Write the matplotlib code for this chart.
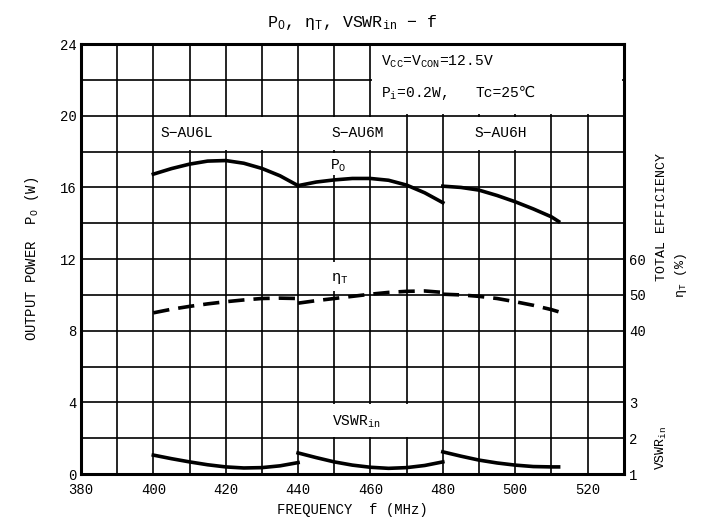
import matplotlib
matplotlib.use("Agg")
import matplotlib.pyplot as plt
from matplotlib.patches import Rectangle

plt.rcParams["font.family"] = ["Liberation Mono", "DejaVu Sans"]
plt.rcParams["mathtext.fontset"] = "custom"
plt.rcParams["mathtext.rm"] = "Liberation Mono"
plt.rcParams["mathtext.it"] = "Liberation Mono"
plt.rcParams["mathtext.default"] = "rm"

# frequency (MHz) for the three bands
freq_L = [400, 405, 410, 415, 420, 425, 430, 435, 440]
freq_M = [440, 445, 450, 455, 460, 465, 470, 475, 480]
freq_H = [480, 485, 490, 495, 500, 505, 510, 512]

# output power Po (W)
po_L = [16.74, 17.05, 17.3, 17.47, 17.5, 17.35, 17.06, 16.65, 16.1]
po_M = [16.1, 16.3, 16.42, 16.5, 16.5, 16.4, 16.13, 15.7, 15.15]
po_H = [16.07, 16.0, 15.85, 15.55, 15.2, 14.8, 14.36, 14.1]

# total efficiency (%)
eff_L = [45.0, 46.0, 46.8, 47.5, 48.1, 48.6, 49.0, 49.1, 49.0]
eff_M = [47.7, 48.4, 49.0, 49.6, 50.2, 50.7, 51.0, 51.1, 50.7]
eff_H = [50.2, 50.0, 49.6, 49.0, 48.1, 47.1, 45.9, 45.3]

# input VSWR
vswr_L = [1.53, 1.43, 1.34, 1.26, 1.2, 1.17, 1.18, 1.23, 1.32]
vswr_M = [1.59, 1.46, 1.34, 1.25, 1.19, 1.16, 1.18, 1.24, 1.34]
vswr_H = [1.62, 1.5, 1.39, 1.31, 1.25, 1.21, 1.2, 1.2]

band_names = ["S\u2212AU6L", "S\u2212AU6M", "S\u2212AU6H"]


def eff_to_w(e):
    return e / 5.0


def w_to_eff(w):
    return w * 5.0


def vswr_to_w(v):
    return (v - 1.0) * 2.0


def w_to_vswr(w):
    return w / 2.0 + 1.0


fig = plt.figure(figsize=(7.04, 5.25), dpi=100)
ax = fig.add_axes([0.115, 0.097, 0.771, 0.819])

ax.set_xlim(380, 530)
ax.set_ylim(0, 24)
ax.set_xticks(range(380, 531, 10), minor=True)
ax.set_yticks(range(0, 25, 2), minor=True)
ax.set_xticks(range(380, 521, 20))
ax.set_yticks(range(0, 25, 4))
ax.grid(True, which="both", color="black", linewidth=1.2)
ax.set_axisbelow(True)
ax.tick_params(which="both", length=0, labelsize=10)
ax.tick_params(axis="x", pad=6.5)
ax.tick_params(axis="y", pad=3)
for sp in ax.spines.values():
    sp.set_linewidth(2.2)
    sp.set_zorder(4)

# white label boxes over the grid (kept just inside the grid lines)
boxes = [(400, 18, 40, 2), (440, 18, 30, 2), (480, 18, 30, 2),
         (460, 20, 70, 4), (440, 2, 40, 2), (444.5, 16.6, 13, 1.4),
         (445, 10.15, 13, 1.75)]
for x0, y0, w, h in boxes:
    ax.add_patch(Rectangle((x0 + 0.35, y0 + 0.08), w - 0.7, h - 0.16,
                           facecolor="white", edgecolor="none", zorder=1))

for f, p in [(freq_L, po_L), (freq_M, po_M), (freq_H, po_H)]:
    ax.plot(f, p, color="black", linewidth=2.6, zorder=3)
for f, e in [(freq_L, eff_L), (freq_M, eff_M), (freq_H, eff_H)]:
    ax.plot(f, [eff_to_w(v) for v in e], color="black", linewidth=2.6,
            linestyle=(0, (4.5, 2.5)), zorder=3)
for f, v in [(freq_L, vswr_L), (freq_M, vswr_M), (freq_H, vswr_H)]:
    ax.plot(f, [vswr_to_w(s) for s in v], color="black", linewidth=2.6, zorder=3)

ax.text(402, 19.05, band_names[0], ha="left", va="center", fontsize=10.5)
ax.text(456.5, 19.05, band_names[1], ha="center", va="center", fontsize=10.5)
ax.text(496, 19.05, band_names[2], ha="center", va="center", fontsize=10.5)
ax.text(463, 23.0, r"V$_\mathrm{CC}$=V$_\mathrm{CON}$=12.5V", ha="left",
        va="center", fontsize=10.5)
ax.text(463, 21.25, r"P$_\mathrm{i}$=0.2W,", ha="left", va="center",
        fontsize=10.5)
ax.text(489, 21.3, "Tc=25\u2103", ha="left", va="center", fontsize=10.5)
ax.text(451, 17.2, r"P$_\mathrm{O}$", ha="center", va="center", fontsize=10.5)
ax.text(451.5, 10.9, r"$\eta_\mathrm{T}$", ha="center", va="center",
        fontsize=11)
ax.text(456, 2.9, r"VSWR$_\mathrm{in}$", ha="center", va="center",
        fontsize=10.5)

ax.set_xlabel("FREQUENCY  f (MHz)", fontsize=10, labelpad=4)
ax.set_ylabel(r"OUTPUT POWER  P$_\mathrm{O}$ (W)", fontsize=10, labelpad=14)
ax.set_title(r"P$_\mathrm{O}$, $\eta_\mathrm{T}$, VSWR$_\mathrm{in}$ $-$ f",
             fontsize=12, pad=12)

eff_ax = ax.secondary_yaxis("right", functions=(w_to_eff, eff_to_w))
eff_ax.set_yticks([40, 50, 60])
eff_ax.tick_params(length=0, labelsize=10, pad=4)

vswr_ax = ax.secondary_yaxis("right", functions=(w_to_vswr, vswr_to_w))
vswr_ax.set_yticks([1, 2, 3])
vswr_ax.tick_params(length=0, labelsize=10, pad=4)
for sa in (eff_ax, vswr_ax):
    sa.spines["right"].set_visible(False)

# right-hand axis titles
ax.text(1.07, 0.45, "TOTAL EFFICIENCY", transform=ax.transAxes, rotation=90,
        ha="center", va="bottom", fontsize=9.5)
ax.text(1.105, 0.41, r"$\eta_\mathrm{T}$ (%)", transform=ax.transAxes,
        rotation=90, ha="center", va="bottom", fontsize=9.5)
ax.text(1.07, 0.01, r"VSWR$_\mathrm{in}$", transform=ax.transAxes,
        rotation=90, ha="center", va="bottom", fontsize=9.5)

fig.savefig("out.png", dpi=100)
